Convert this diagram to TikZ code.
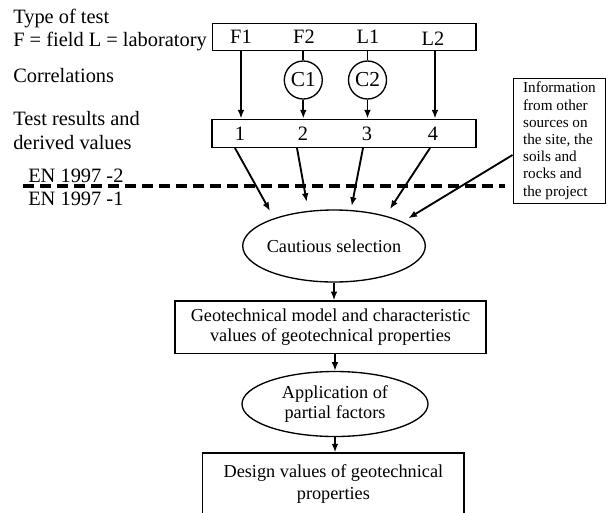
\documentclass[tikz,border=0pt]{standalone}
\usepackage{fontspec}
\setmainfont{Liberation Serif}
\usetikzlibrary{arrows.meta,shapes.geometric,calc}

\begin{document}
\begin{tikzpicture}[x=0.75pt,y=-0.75pt,>={Latex[length=6.5pt,width=5pt]},
  box/.style={draw,line width=1.1pt,inner sep=0pt},
  oval/.style={draw,ellipse,line width=1pt,inner sep=0pt,align=center,
               font=\fontsize{13.7}{15}\selectfont},
  corr/.style={draw,circle,line width=1pt,minimum size=28.5pt,inner sep=0pt,
               font=\fontsize{16}{18}\selectfont},
  lab/.style={font=\fontsize{15.3}{17.8}\selectfont,inner sep=0pt},
  flow/.style={->,line width=1.4pt}]
\useasboundingbox (0,0) rectangle (607,512);
% ================= LEFT: captions =================
\node[lab,anchor=west,align=left] (cap1) at (13,29.9)
  {Type of test\\F = field L = laboratory};
\node[lab,anchor=west] (cap2) at (13,76) {Correlations};
\node[lab,anchor=west,align=left] (cap3) at (13,130.3)
  {Test results and\\derived values};
\node[lab,anchor=west] (en2) at (28,176) {EN 1997 -2};
\node[lab,anchor=west] (en1) at (28,199.3) {EN 1997 -1};
\draw[line width=3pt,dash pattern=on 8.25pt off 4.5pt] (23,185.7) -- (505,185.7);
% ================= TOP: tests and results =================
\node[box,minimum width=197.5pt,minimum height=20.5pt] (tests) at (344.4,37) {};
\node[lab] (f1) at (241,37) {F1};
\node[lab] (f2) at (304,37) {F2};
\node[lab] (l1) at (368,37) {L1};
\node[lab] (l2) at (433,38.5) {L2};
\node[corr] (c1) at (303.3,80) {C1};
\node[corr] (c2) at (367.5,80) {C2};
\node[box,minimum width=198.2pt,minimum height=21pt] (res) at (343.9,133.3) {};
\foreach \x/\n in {240/1,303/2,367/3,433/4}
  \node[lab] (r\n) at (\x,134) {\n};
% tests -> results (through correlations)
\draw[flow] (f1 |- tests.south) -- (f1 |- res.north);
\draw[line width=1.4pt] (c1 |- tests.south) -- (c1.north);
\draw[flow] (c1.south) -- (c1 |- res.north);
\draw[line width=1.4pt] (c2 |- tests.south) -- (c2.north);
\draw[flow] (c2.south) -- (c2 |- res.north);
\draw[flow] ($(l2 |- tests.south)+(2,0)$) -- ($(l2 |- res.north)+(2,0)$);
% other information
\node[box,minimum width=69.2pt,minimum height=93.75pt,align=left,
      font=\fontsize{11.4}{12.9}\selectfont] (info) at (559.4,140.8)
  {Information\\from other\\sources on\\the site, the\\soils and\\rocks and\\the project};
% ================= BOTTOM: selection chain =================
\node[oval,inner xsep=-2pt,minimum width=136.5pt,minimum height=54pt] (sel)
  at (334,246) {Cautious selection};
\coordinate (t1) at (270,211);
\coordinate (t2) at (306.7,202);
\coordinate (t3) at (351.7,206);
\coordinate (t4) at (390,209);
\coordinate (t5) at (408.3,218.3);
\foreach \n/\dx in {1/-5,2/-6,3/-4,4/-3}
  \draw[flow] ($(r\n |- res.south)+(\dx,0)$) -- (t\n);
\draw[flow] ($(info.west)+(0,14.2)$) -- (t5);
\node[box,minimum width=233.25pt,minimum height=39.2pt,align=center,
      font=\fontsize{13.7}{15}\selectfont] (geo) at (330.5,327.2)
  {Geotechnical model and characteristic\\values of geotechnical properties};
\node[oval,minimum width=139.5pt,minimum height=48.75pt] (app) at (335,404)
  {Application of\\partial factors};
\node[box,minimum width=196pt,minimum height=46.5pt,align=center,
      font=\fontsize{13.7}{16.2}\selectfont] (des) at (333.4,484.2)
  {Design values of geotechnical\\properties};
\draw[flow] (sel.south) -- (sel.south |- geo.north);
\draw[flow] (app.north |- geo.south) -- (app.north);
\draw[flow] (app.south) -- (app.south |- des.north);
\end{tikzpicture}
\end{document}
